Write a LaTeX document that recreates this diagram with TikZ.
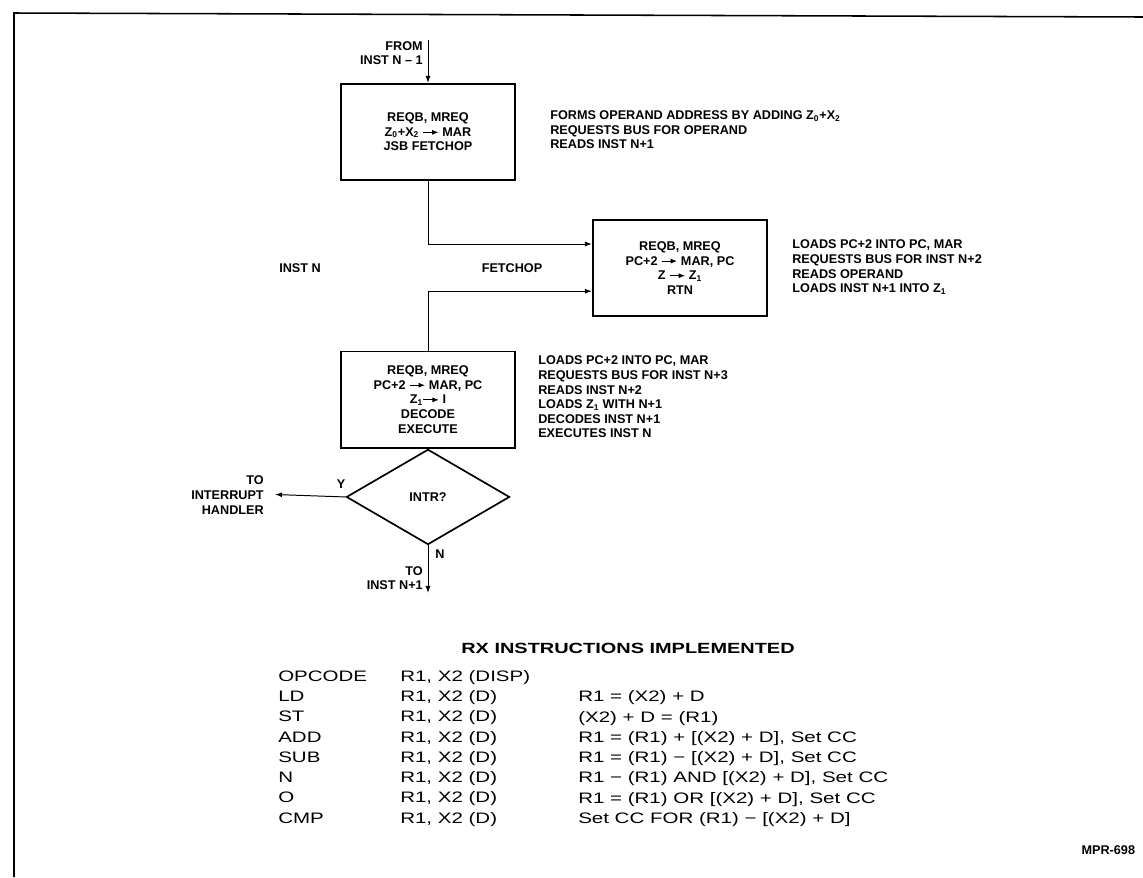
\documentclass[tikz,border=0pt]{standalone}
\usepackage{fontspec}
\setmainfont{Liberation Sans}
\newfontfamily\tablefont[FakeStretch=1.35]{Liberation Sans}
\usetikzlibrary{arrows.meta,positioning,shapes.geometric}
\newcommand{\goesto}{\tikz[baseline=-0.6ex]\draw[line width=0.6pt,-{Latex[length=4.5pt,width=3.5pt]}] (0pt,0pt) -- (11pt,0pt);}
\newcommand{\sub}[1]{\textsubscript{#1}}

\begin{document}
\begin{tikzpicture}[x=0.025cm,y=-0.025cm,
  flow/.style={font=\bfseries\fontsize{9}{10.4}\selectfont,inner sep=0pt},
  box/.style={flow,draw,line width=1.4pt,align=center,minimum width=4.35cm,minimum height=2.4cm},
  decision/.style={flow,draw,diamond,line width=1.2pt,minimum width=4.08cm,minimum height=2.38cm},
  note/.style={flow,align=left,anchor=west},
  conn/.style={line width=0.7pt,-{Latex[length=5pt,width=3.5pt]}},
  tbl/.style={font=\tablefont\fontsize{10.8}{14.4}\selectfont,inner sep=0pt,align=left,anchor=north west}]
  \useasboundingbox (0,0) rectangle (1143,877);
  % frame
  \draw[line width=1.1pt] (14,877) -- (14,13) -- (1143,17);
  % flow chart
  \node[box] (fetch) at (428,132) {REQB, MREQ\\Z\sub{0}+X\sub{2} \goesto\ MAR\\JSB FETCHOP};
  \node[box] (fop) at (680,268) {REQB, MREQ\\PC+2 \goesto\ MAR, PC\\Z \goesto\ Z\sub{1}\\RTN};
  \node[box] (exec) at (428,399.5) {REQB, MREQ\\PC+2 \goesto\ MAR, PC\\Z\sub{1}\goesto\ I\\DECODE\\EXECUTE};
  \node[decision,below=0pt of exec] (intr) {INTR?};
  \node[note] (fetchnote) at (550,130) {FORMS OPERAND ADDRESS BY ADDING Z\sub{0}+X\sub{2}\\REQUESTS BUS FOR OPERAND\\READS INST N+1};
  \node[note] (fopnote) at (792,267) {LOADS PC+2 INTO PC, MAR\\REQUESTS BUS FOR INST N+2\\READS OPERAND\\LOADS INST N+1 INTO Z\sub{1}};
  \node[note] (execnote) at (538,397) {LOADS PC+2 INTO PC, MAR\\REQUESTS BUS FOR INST N+3\\READS INST N+2\\LOADS Z\sub{1} WITH N+1\\DECODES INST N+1\\EXECUTES INST N};
  \node[flow] (instn) at (300,268) {INST N};
  \node[flow] (fetchop) at (512,268) {FETCHOP};
  \node[flow,align=right,anchor=east] (from) at (423,53) {FROM\\INST N -- 1};
  \node[flow,align=right,anchor=east] (handler) at (264,495) {TO\\INTERRUPT\\HANDLER};
  \node[flow,align=right,anchor=east] (tonext) at (423,578) {TO\\INST N+1};
  \node[flow] (ylab) at (341,484) {Y};
  \node[flow] (nlab) at (440,554) {N};
  \coordinate (start) at (428,40);
  \coordinate (hand) at (275,494.5);
  \coordinate (next) at (428,593);
  \draw[conn] (start) -- (fetch.north);
  \draw[conn] (fetch.south) |- ([yshift=0.6cm]fop.west);
  \draw[conn,{Latex[length=5pt,width=3.5pt]}-] ([yshift=-0.58cm]fop.west) -| (exec.north);
  \draw[conn] (intr.west) -- (hand);
  \draw[conn] (intr.south) -- (next);
  % instruction table
  \node[font=\tablefont\bfseries\fontsize{10.5}{12}\selectfont] (title) at (628,648) {RX INSTRUCTIONS IMPLEMENTED};
  \node[tbl] (opcol) at (278,667) {\strut OPCODE\\LD\\ST\\ADD\\SUB\\N\\O\\CMP};
  \node[tbl] (argcol) at (400,667) {\strut R1, X2 (DISP)\\R1, X2 (D)\\R1, X2 (D)\\R1, X2 (D)\\R1, X2 (D)\\R1, X2 (D)\\R1, X2 (D)\\R1, X2 (D)};
  \node[tbl] (opdesc) at (578,687.3) {\strut R1 = (X2) + D\\(X2) + D = (R1)\\R1 = (R1) + [(X2) + D], Set CC\\R1 = (R1) − [(X2) + D], Set CC\\R1 − (R1) AND [(X2) + D], Set CC\\R1 = (R1) OR [(X2) + D], Set CC\\Set CC FOR (R1) − [(X2) + D]};
  \node[font=\bfseries\fontsize{9}{11}\selectfont,anchor=east] (figno) at (1140,850) {MPR-698};
\end{tikzpicture}
\end{document}
